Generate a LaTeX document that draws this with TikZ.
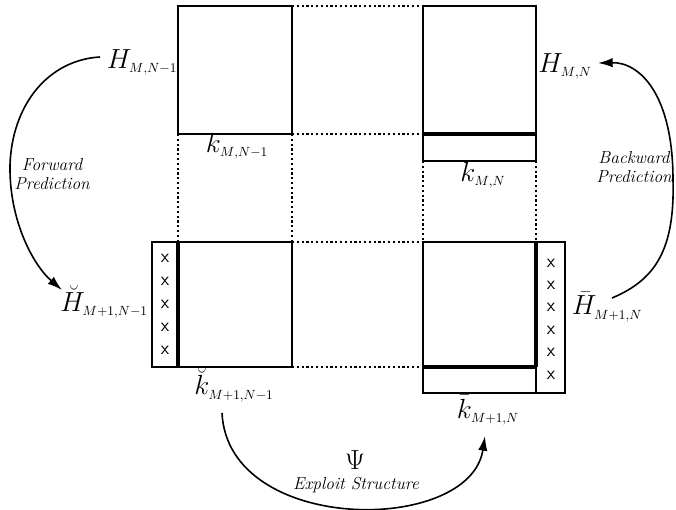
\documentclass[tikz,border=0pt]{standalone}
\usetikzlibrary{arrows.meta}
\DeclareMathSizes{20.74}{20.74}{14.4}{10}

% subscript set at a fixed size, packed tightly
\newcommand\subs[1]{\mbox{\fontsize{10}{10}\selectfont$#1$}}

\tikzset{
  box/.style={draw, line width=1.1pt, inner sep=0pt, outer sep=0pt},
  thickedge/.style={line width=2.4pt, line cap=butt},
  guide/.style={line width=1pt, dash pattern=on 1.6pt off 2pt},
  arc/.style={line width=1.2pt, -{Latex[length=11pt,width=7pt]}},
  xmark/.style={font=\sffamily\fontsize{14}{14}\selectfont, inner sep=0pt},
  lbl/.style={font=\fontsize{20.74}{22}\selectfont, inner sep=1pt},
  note/.style={font=\itshape\fontsize{13}{14}\selectfont, align=center, inner sep=1pt}
}

\begin{document}
\begin{tikzpicture}[x=0.75pt, y=-0.75pt]
\useasboundingbox (0,0) rectangle (676,510);

% --- blocks of the N-1 (left) and N (right) systems ---
\node[box, minimum width={114*0.75pt}, minimum height={128*0.75pt}] (tl)  at (235,70) {};
\node[box, minimum width={113*0.75pt}, minimum height={128*0.75pt}] (trH) at (479.5,70) {};
\node[box, minimum width={113*0.75pt}, minimum height={27*0.75pt}]  (trK) at (479.5,147.5) {};

\node[box, minimum width={114*0.75pt}, minimum height={125*0.75pt}] (bl)  at (235,304.5) {};
\node[box, minimum width={26*0.75pt},  minimum height={125*0.75pt}] (blX) at (165,304.5) {};

\node[box, minimum width={113*0.75pt}, minimum height={125*0.75pt}] (brH) at (479.5,304.5) {};
\node[box, minimum width={113*0.75pt}, minimum height={26*0.75pt}]  (brK) at (479.5,380) {};
\node[box, minimum width={29*0.75pt},  minimum height={151*0.75pt}] (brX) at (550.5,317.5) {};

% heavy edges marking the appended row / column
\draw[thickedge] (trH.south west) -- (trH.south east);
\draw[thickedge] (blX.north east) -- (blX.south east);
\draw[thickedge] (brH.north east) -- (brH.south east);
\draw[thickedge] (brH.south west) -- (brH.south east);

% --- dotted guides between the blocks ---
\draw[guide] (tl.north east) -- (trH.north west);
\draw[guide] (tl.south east) -- (trH.south west);
\draw[guide] (tl.south west) -- (bl.north west);
\draw[guide] (tl.south east) -- (bl.north east);
\draw[guide] (trK.south west) -- (brH.north west);
\draw[guide] (trK.south east) -- (brH.north east);
\draw[guide] (bl.north east) -- (brH.north west);
\draw[guide] (bl.south east) -- (brH.south west);

% --- new entries ---
\foreach \i in {0,...,4}
  \node[xmark] (xl\i) at (165,{258+23*\i}) {x};
\foreach \i in {0,...,5}
  \node[xmark] (xr\i) at (551,{263+22.4*\i}) {x};

% --- labels ---
\node[lbl] (Hl)  at (142,62)  {$H_{\subs{M{,}N{-}1}}$};
\node[lbl] (kl)  at (237,146) {$k_{\subs{M{,}N{-}1}}$};
\node[lbl] (Hr)  at (565,66)  {$H_{\subs{M{,}N}}$};
\node[lbl] (kr)  at (483,175) {$k_{\subs{M{,}N}}$};
\node[lbl] (Hlb) at (104,302) {$\breve{H}_{\subs{M{+}1{,}N{-}1}}$};
\node[lbl] (Hrb) at (607,307) {$\bar{H}_{\subs{M{+}1{,}N}}$};
\node[lbl] (klb) at (234,385) {$\breve{k}_{\subs{M{+}1{,}N{-}1}}$};
\node[lbl] (krb) at (488,410) {$\bar{k}_{\subs{M{+}1{,}N}}$};

\node[note] (fw) at (52,174)  {Forward\\Prediction};
\node[note] (bw) at (634,167) {Backward\\Prediction};
\node[lbl]  (psi) at (355,460) {$\Psi$};
\node[note] (ex) at (356,485) {Exploit Structure};

% --- prediction arcs ---
\coordinate (fwS) at (100,57);
\coordinate (fwM) at (10,165);
\coordinate (fwE) at (62,290);
\draw[arc] (fwS) .. controls (48,60) and (12,105) .. (fwM)
                 .. controls (9,220) and (33,265) .. (fwE);

\coordinate (bwS) at (612,298);
\coordinate (bwM) at (673,180);
\coordinate (bwE) at (598,63);
\draw[arc] (bwS) .. controls (655,280) and (675,250) .. (bwM)
                 .. controls (673,95) and (640,62) .. (bwE);

\coordinate (exS) at (222,413);
\coordinate (exE) at (485,436);
\draw[arc] (exS) .. controls (228,535) and (470,535) .. (exE);
\end{tikzpicture}
\end{document}
